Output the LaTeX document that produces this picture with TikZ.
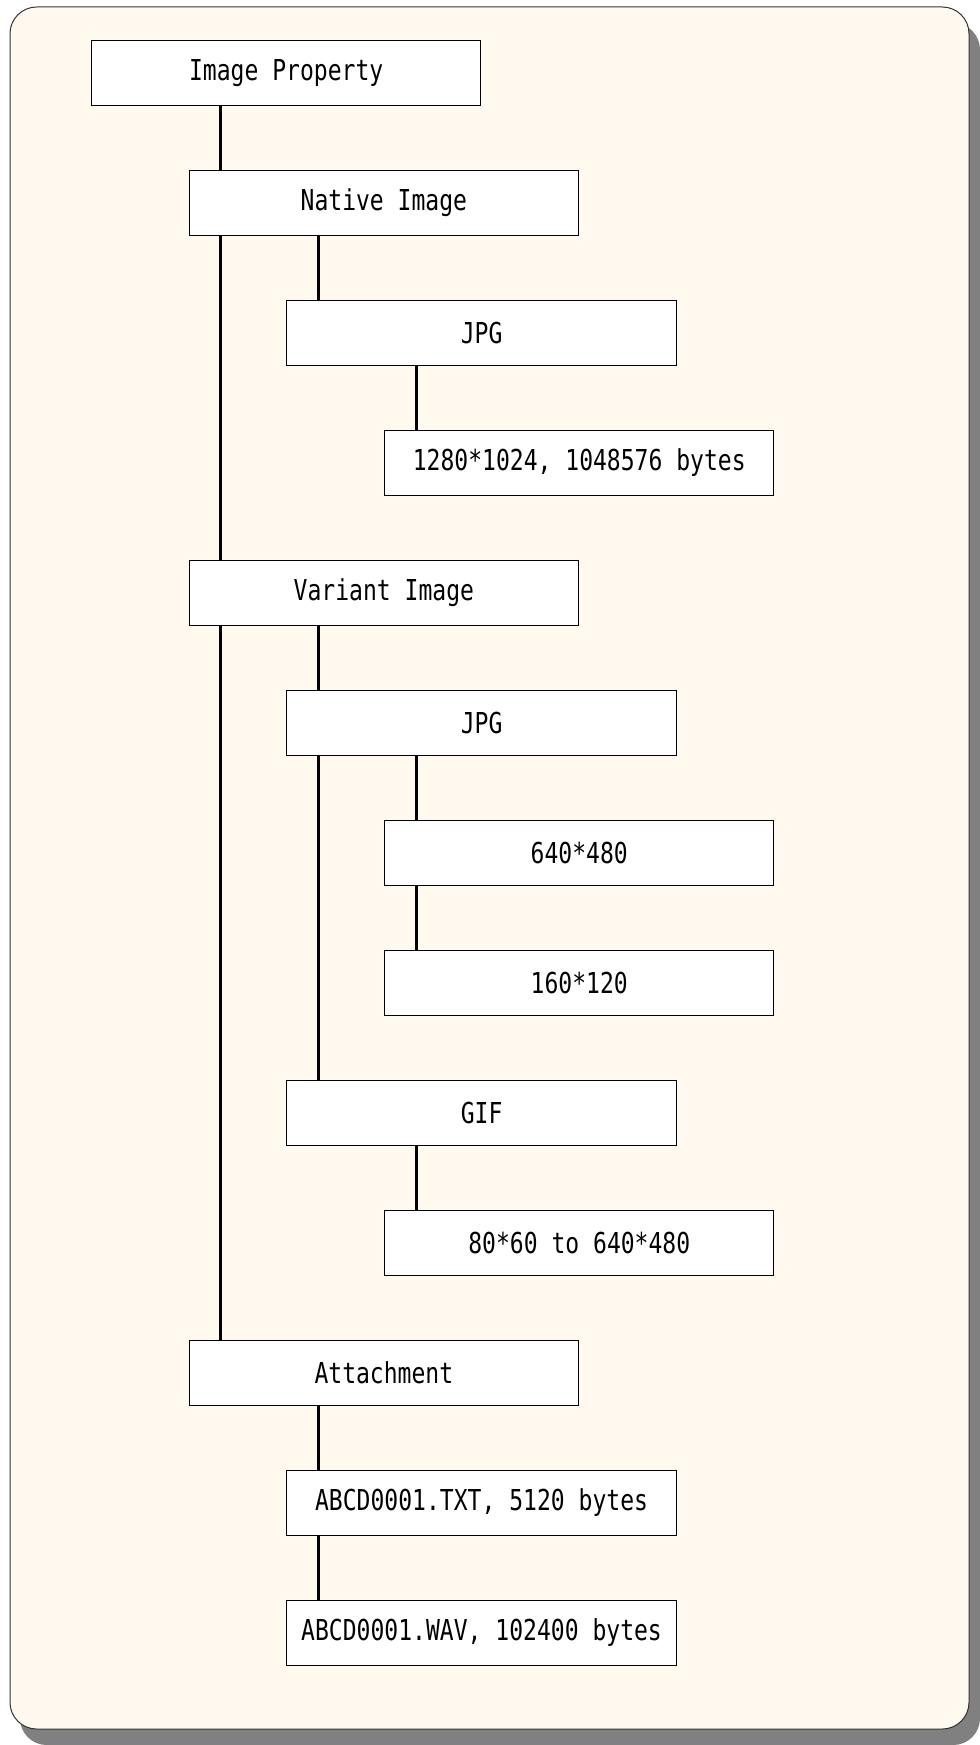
\documentclass[tikz,border=0pt]{standalone}
\usepackage{fontspec}
\setmonofont[FakeStretch=0.8]{DejaVu Sans Mono}
\usetikzlibrary{calc}
\definecolor{paper}{HTML}{FFF9EF}
\definecolor{dropgray}{HTML}{808080}
\tikzset{
  item/.style={draw=black,line width=0.75pt,fill=white,anchor=north west,inner sep=0pt,
    minimum width=292pt,minimum height=48.75pt,font=\ttfamily\fontsize{21.6pt}{24pt}\selectfont},
  link/.style={line width=2.25pt}
}
\begin{document}
\begin{tikzpicture}[x=0.75pt,y=-0.75pt]
\useasboundingbox (0,0) rectangle (980,1745);
\fill[dropgray,rounded corners=20pt] (20,23) rectangle (980,1745);
\draw[fill=paper,draw=black!80,line width=0.75pt,rounded corners=20pt] (10,7) rectangle (969,1729);
\foreach \n/\l/\r/\t in {ip/0/0/{Image Property},ni/1/1/{Native Image},nj/2/2/{JPG},
  nr/3/3/{1280*1024, 1048576 bytes},vi/1/4/{Variant Image},vj/2/5/{JPG},vl/3/6/{640*480},
  vs/3/7/{160*120},vg/2/8/{GIF},vr/3/9/{80*60 to 640*480},at/1/10/{Attachment},
  tx/2/11/{ABCD0001.TXT, 5120 bytes},wv/2/12/{ABCD0001.WAV, 102400 bytes}}
  \node[item] (\n) at ({91+97.7*\l},{40+130*\r}) {\t};
\foreach \a/\b in {ip/ni,ni/vi,vi/at,ni/nj,nj/nr,vi/vj,vj/vg,vj/vl,vl/vs,vg/vr,at/tx,tx/wv}
  \draw[link] ($(\a.south -| \b.west)+(32,0)$) -- ($(\b.north west)+(32,0)$);
\end{tikzpicture}
\end{document}
